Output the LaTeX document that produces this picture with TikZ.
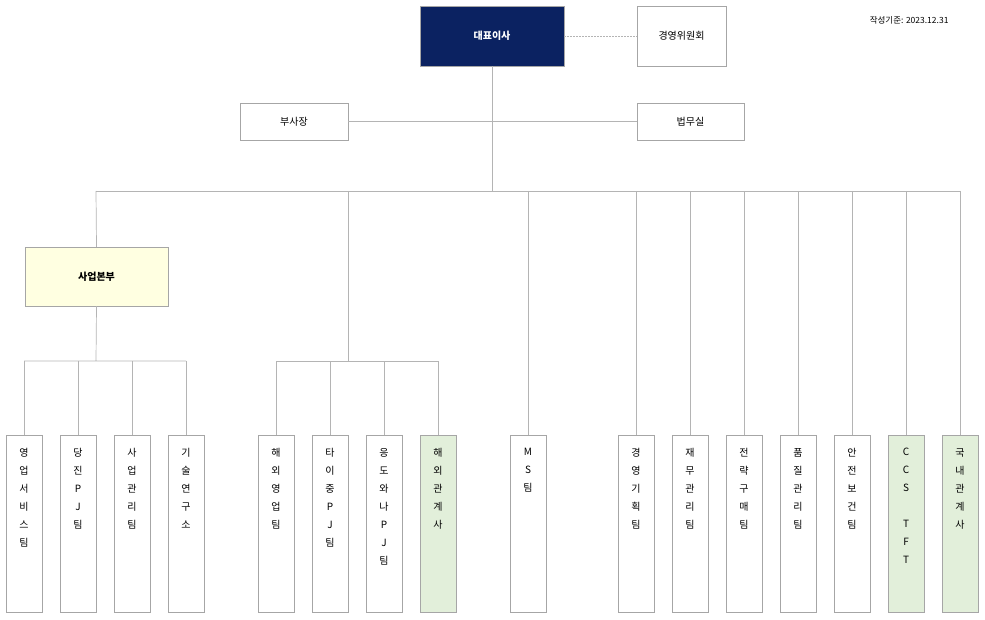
\documentclass[tikz,border=0pt]{standalone}
\usepackage{fontspec}
\setmainfont{Noto Sans CJK KR}
\definecolor{navy}{HTML}{0B2261}
\definecolor{bx}{HTML}{A6A6A6}
\definecolor{ln}{HTML}{B4B4B4}
\definecolor{gr}{HTML}{E2EFDA}
\definecolor{yl}{HTML}{FFFFE1}
\begin{document}
\begin{tikzpicture}[x=1pt,y=-1pt,
 box/.style={draw=bx,fill=white,minimum width=#1,font=\fontsize{10}{12}\selectfont,inner sep=0},
 vbox/.style={draw=bx,fill=white,minimum width=36,minimum height=177,anchor=north,inner sep=0},
 vt/.style={anchor=north,align=center,font=\fontsize{10}{18}\selectfont,inner sep=0},
 con/.style={draw=ln,line width=0.7pt}]
\useasboundingbox (0,0) rectangle (985,620);
\node[box=144,minimum height=60,fill=navy,text=white,font=\fontsize{10}{12}\selectfont\bfseries] (ceo) at (492,36) {대표이사};
\node[box=89,minimum height=60] (com) at (681.5,36) {경영위원회};
\draw[con,dashed,dash pattern=on 2pt off 1pt] (ceo.east) -- (com.west);
\node[font=\fontsize{8.5}{10}\selectfont,anchor=east] (date) at (952,20) {작성기준: 2023.12.31};
\node[box=108,minimum height=37] (vp) at (294,121.5) {부사장};
\node[box=107,minimum height=37] (law) at (690.5,121.5) {법무실};
\draw[con] (vp.east) -- (law.west);
\coordinate (bus) at (492,191);
\draw[con] (ceo.south) -- (bus);
\draw[con] (96,191) -- (960,191);
\node[box=143,minimum height=59,fill=yl,font=\fontsize{10}{12}\selectfont\bfseries] (biz) at (96.5,276.5) {사업본부};
\draw[con] (96,191) -- (biz.north);
\draw[con] (biz.south) -- (96,361) (24,361) -- (186,361);
\draw[con] (348,191) -- (348,361) (276,361) -- (438,361);
\foreach \x/\t/\f [count=\i] in {
 24/영\\업\\서\\비\\스\\팀/white, 78/당\\진\\P\\J\\팀/white, 132/사\\업\\관\\리\\팀/white, 186/기\\술\\연\\구\\소/white,
 276/해\\외\\영\\업\\팀/white, 330/타\\이\\중\\P\\J\\팀/white, 384/응\\도\\와\\나\\P\\J\\팀/white, 438/해\\외\\관\\계\\사/gr,
 528/M\\S\\팀/white, 636/경\\영\\기\\획\\팀/white, 690/재\\무\\관\\리\\팀/white, 744/전\\략\\구\\매\\팀/white,
 798/품\\질\\관\\리\\팀/white, 852/안\\전\\보\\건\\팀/white, 906/C\\C\\S\\\strut\\T\\F\\T/gr, 960/국\\내\\관\\계\\사/gr}{
 \node[vbox,fill=\f] (b\i) at (\x,435) {};
 \node[vt] (t\i) at (\x,448) {\t};
}
\foreach \i in {1,2,3,4,5,6,7,8} {\draw[con] (b\i.north |- 0,361) -- (b\i.north);}
\foreach \i in {9,...,16} {\draw[con] (b\i.north |- 0,191) -- (b\i.north);}
\end{tikzpicture}
\end{document}
